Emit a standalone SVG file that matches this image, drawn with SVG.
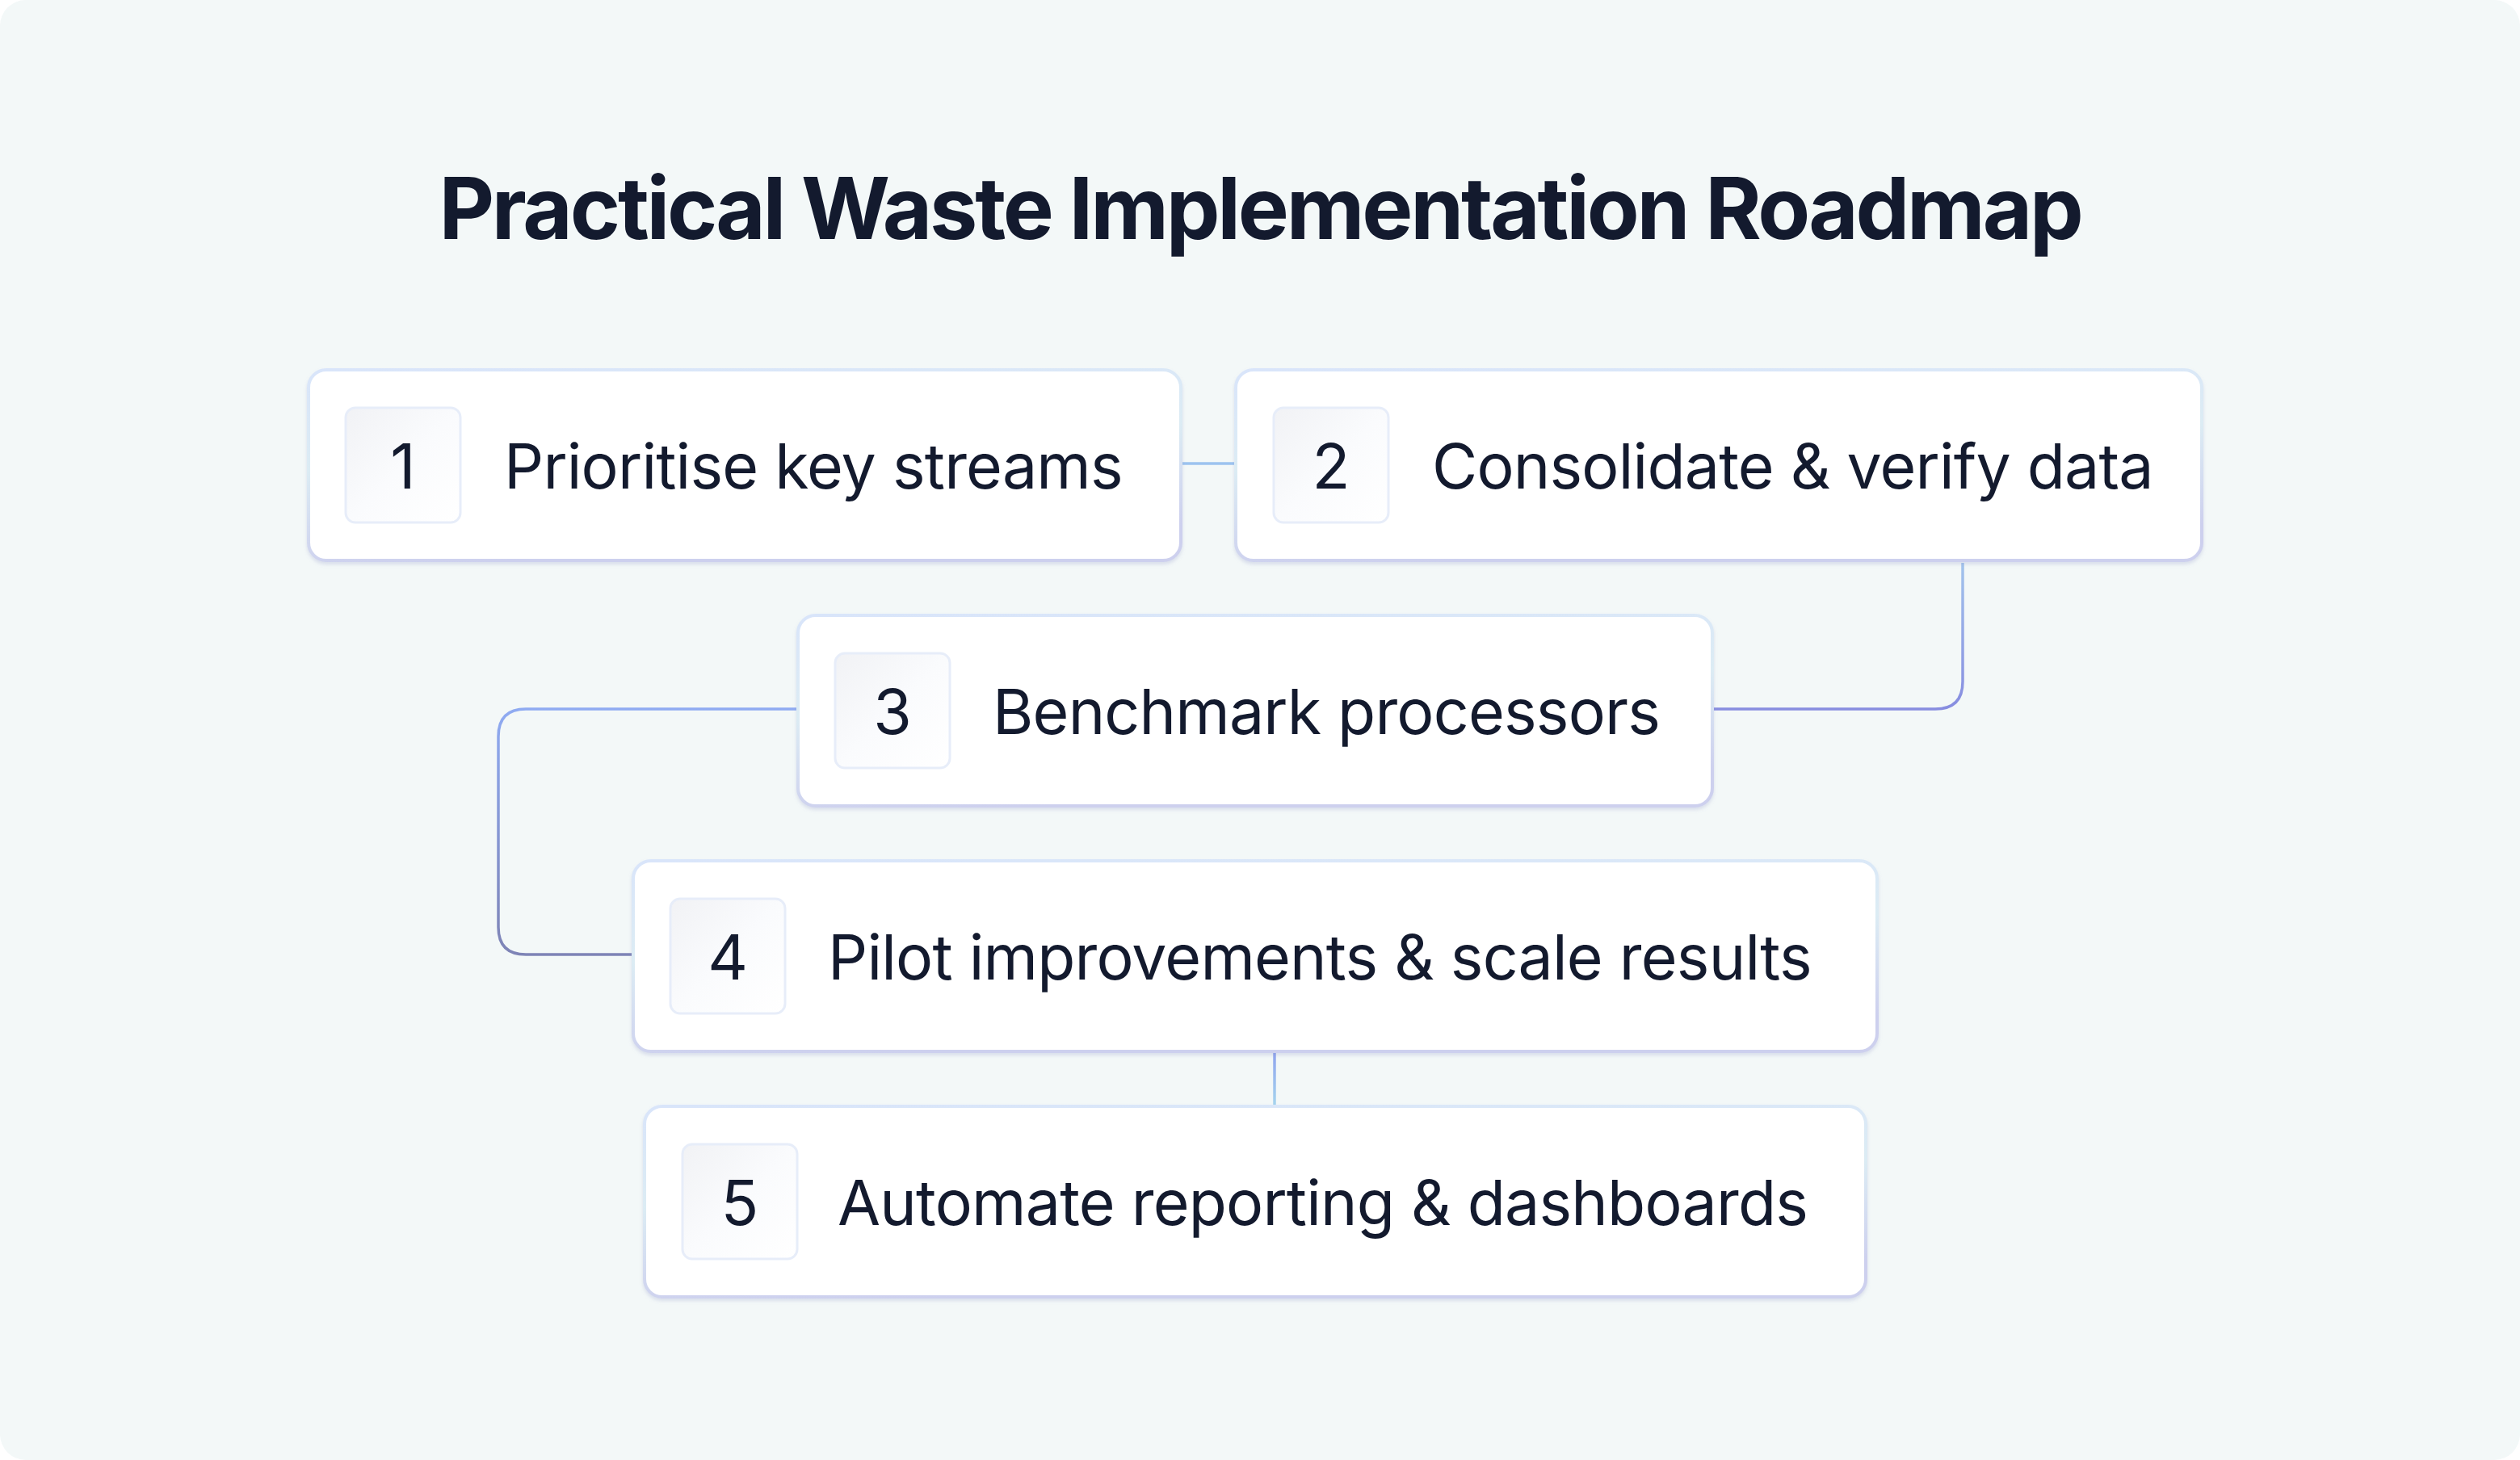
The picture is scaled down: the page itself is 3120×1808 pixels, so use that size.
<svg xmlns="http://www.w3.org/2000/svg" width="3120" height="1808" viewBox="0 0 3120 1808">
<defs>
<style>
.title{font-family:Inter,"Noto Sans","Liberation Sans",sans-serif;font-weight:700;font-size:106px;fill:#131a2e;letter-spacing:-3.2px}
.lbl{font-family:Inter,"Noto Sans","Liberation Sans",sans-serif;font-weight:400;font-size:77px;fill:#131a2e;letter-spacing:-0.8px}
.num{font-family:Inter,"Noto Sans","Liberation Sans",sans-serif;font-weight:400;font-size:77px;fill:#131a2e;text-anchor:middle}
.card{fill:#ffffff;stroke:url(#cardStroke);stroke-width:4;filter:url(#sh)}
.badge{fill:url(#badgeFill);stroke:#e7edf9;stroke-width:3}
.conn{fill:none;stroke-width:3.5}
</style>
<linearGradient id="cardStroke" x1="0" y1="0" x2="0.25" y2="1">
<stop offset="0" stop-color="#d9e5fa"/>
<stop offset="0.5" stop-color="#dcecf4"/>
<stop offset="1" stop-color="#cdd0ee"/>
</linearGradient>
<linearGradient id="badgeFill" x1="0" y1="0" x2="1" y2="1">
<stop offset="0" stop-color="#f1f2f5"/>
<stop offset="0.5" stop-color="#fafbfd"/>
<stop offset="1" stop-color="#ffffff"/>
</linearGradient>
<linearGradient id="c23" gradientUnits="userSpaceOnUse" x1="0" y1="697" x2="0" y2="878">
<stop offset="0" stop-color="#a3c4ec"/>
<stop offset="1" stop-color="#878de0"/>
</linearGradient>
<linearGradient id="c34" gradientUnits="userSpaceOnUse" x1="0" y1="878" x2="0" y2="1182">
<stop offset="0" stop-color="#8fabf2"/>
<stop offset="1" stop-color="#7e84b6"/>
</linearGradient>
<linearGradient id="c45" gradientUnits="userSpaceOnUse" x1="0" y1="1302" x2="0" y2="1371">
<stop offset="0" stop-color="#8fa3ee"/>
<stop offset="1" stop-color="#a6d6ee"/>
</linearGradient>
<filter id="sh" x="-5%" y="-10%" width="110%" height="125%">
<feDropShadow dx="0" dy="3" stdDeviation="2" flood-color="#8a90c4" flood-opacity="0.25"/>
</filter>
</defs>
<rect x="0" y="0" width="3120" height="1808" rx="32" fill="#f3f8f8"/>
<text class="title" x="1560" y="296" text-anchor="middle">Practical Waste Implementation Roadmap</text>
<g id="connectors">
<path class="conn" stroke="#9cc3ef" d="M1462 574 H1530"/>
<path class="conn" stroke="url(#c23)" d="M2430 697 V844 Q2430 878 2396 878 H2120"/>
<path class="conn" stroke="url(#c34)" d="M988 878 H651 Q617 878 617 912 V1148 Q617 1182 651 1182 H784"/>
<path class="conn" stroke="url(#c45)" d="M1578 1302 V1371"/>
</g>
<g id="node1">
<rect class="card" x="382" y="458" width="1080" height="236" rx="22"/>
<rect class="badge" x="428" y="505" width="142" height="142" rx="12"/>
<text class="num" x="499" y="605">1</text>
<text class="lbl" x="624" y="605">Prioritise key streams</text>
</g>
<g id="node2">
<rect class="card" x="1530" y="458" width="1196" height="236" rx="22"/>
<rect class="badge" x="1577" y="505" width="142" height="142" rx="12"/>
<text class="num" x="1648" y="605">2</text>
<text class="lbl" x="1773" y="605">Consolidate &amp; verify data</text>
</g>
<g id="node3">
<rect class="card" x="988" y="762" width="1132" height="236" rx="22"/>
<rect class="badge" x="1034" y="809" width="142" height="142" rx="12"/>
<text class="num" x="1105" y="909">3</text>
<text class="lbl" x="1229" y="909">Benchmark processors</text>
</g>
<g id="node4">
<rect class="card" x="784" y="1066" width="1540" height="236" rx="22"/>
<rect class="badge" x="830" y="1113" width="142" height="142" rx="12"/>
<text class="num" x="901" y="1213">4</text>
<text class="lbl" x="1025" y="1213">Pilot improvements &amp; scale results</text>
</g>
<g id="node5">
<rect class="card" x="798" y="1370" width="1512" height="236" rx="22"/>
<rect class="badge" x="845" y="1417" width="142" height="142" rx="12"/>
<text class="num" x="916" y="1517">5</text>
<text class="lbl" x="1037" y="1517">Automate reporting &amp; dashboards</text>
</g>
</svg>
